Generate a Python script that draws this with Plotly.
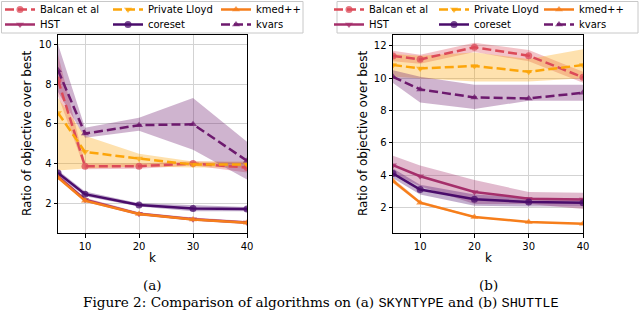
import plotly.graph_objects as go

# ---------------- data ----------------
k_values = [5, 10, 20, 30, 40]
x_ticks = [10, 20, 30, 40]
a_y_ticks = [2, 4, 6, 8, 10]
b_y_ticks = [2, 4, 6, 8, 10, 12]

names = ["Balcan et al", "HST", "Private Lloyd", "coreset", "kmed++", "kvars"]

# (a) SKYNTYPE
a_balcan = [8.2, 3.87, 3.87, 4.0, 3.8]
a_balcan_lo = [7.4, 3.72, 3.74, 3.9, 3.55]
a_balcan_hi = [9.5, 4.0, 4.0, 4.12, 4.05]
a_hst = [3.35, 2.18, 1.47, 1.2, 1.03]
a_hst_lo = [3.25, 2.08, 1.39, 1.12, 0.95]
a_hst_hi = [3.45, 2.28, 1.55, 1.28, 1.11]
a_lloyd = [6.55, 4.59, 4.25, 3.95, 3.95]
a_lloyd_lo = [3.65, 3.75, 3.85, 3.8, 3.8]
a_lloyd_hi = [7.3, 5.4, 4.5, 4.1, 4.1]
a_coreset = [3.53, 2.46, 1.91, 1.74, 1.71]
a_coreset_lo = [3.4, 2.35, 1.84, 1.6, 1.6]
a_coreset_hi = [3.66, 2.6, 2.0, 1.9, 1.82]
a_kmed = [3.3, 2.13, 1.46, 1.19, 1.02]
a_kmed_lo = [3.24, 2.08, 1.41, 1.15, 0.98]
a_kmed_hi = [3.36, 2.18, 1.51, 1.23, 1.06]
a_kvars = [8.7, 5.51, 5.93, 5.98, 4.14]
a_kvars_lo = [7.6, 5.3, 5.65, 4.7, 3.2]
a_kvars_hi = [10.0, 5.8, 6.3, 7.3, 5.1]

# (b) SHUTTLE
b_balcan = [11.38, 11.17, 11.92, 11.4, 10.06]
b_balcan_lo = [11.05, 10.9, 11.62, 11.05, 9.72]
b_balcan_hi = [11.7, 11.45, 12.2, 11.75, 10.4]
b_hst = [4.61, 3.93, 2.95, 2.54, 2.48]
b_hst_lo = [4.1, 3.3, 2.2, 2.2, 1.9]
b_hst_hi = [5.2, 4.6, 3.7, 2.95, 2.9]
b_lloyd = [10.82, 10.61, 10.76, 10.4, 10.82]
b_lloyd_lo = [10.1, 10.0, 9.8, 9.8, 10.0]
b_lloyd_hi = [11.5, 11.4, 11.6, 11.2, 11.8]
b_coreset = [4.09, 3.1, 2.5, 2.33, 2.29]
b_coreset_lo = [3.8, 2.8, 2.1, 2.05, 2.05]
b_coreset_hi = [4.4, 3.4, 2.8, 2.6, 2.55]
b_kmed = [3.64, 2.29, 1.4, 1.09, 0.99]
b_kmed_lo = [3.5, 2.2, 1.35, 1.05, 0.95]
b_kmed_hi = [3.8, 2.4, 1.45, 1.13, 1.03]
b_kvars = [10.09, 9.31, 8.81, 8.75, 9.1]
b_kvars_lo = [9.7, 8.5, 8.1, 8.6, 8.6]
b_kvars_hi = [10.5, 10.1, 9.6, 9.6, 9.6]

# ---------------- styles ----------------
W, H = 640, 314
colors = ["#dc4a58", "#a52f6b", "#fca50a", "#4a0c6b", "#f67e1b", "#6d1a6e"]
dashes = ["9px,4px", "solid", "9px,4px", "solid", "solid", "9px,4px"]
symbols = ["circle", "triangle-down", "triangle-down", "circle", "triangle-up", "triangle-up"]
row_of = [0, 1, 0, 1, 0, 1]  # legend row (matplotlib ncol=3 ordering)


def rgba(hexc, a):
    h = hexc.lstrip("#")
    return "rgba(%d,%d,%d,%.2f)" % (int(h[0:2], 16), int(h[2:4], 16), int(h[4:6], 16), a)


panels = [
    ("x", "y", ["legend", "legend2"],
     [(a_balcan, a_balcan_lo, a_balcan_hi), (a_hst, a_hst_lo, a_hst_hi),
      (a_lloyd, a_lloyd_lo, a_lloyd_hi), (a_coreset, a_coreset_lo, a_coreset_hi),
      (a_kmed, a_kmed_lo, a_kmed_hi), (a_kvars, a_kvars_lo, a_kvars_hi)]),
    ("x2", "y2", ["legend3", "legend4"],
     [(b_balcan, b_balcan_lo, b_balcan_hi), (b_hst, b_hst_lo, b_hst_hi),
      (b_lloyd, b_lloyd_lo, b_lloyd_hi), (b_coreset, b_coreset_lo, b_coreset_hi),
      (b_kmed, b_kmed_lo, b_kmed_hi), (b_kvars, b_kvars_lo, b_kvars_hi)]),
]

fig = go.Figure()
for xa, ya, legs, data in panels:
    # bands first
    for i, (mean, lo, hi) in enumerate(data):
        fig.add_trace(go.Scatter(x=k_values, y=hi, xaxis=xa, yaxis=ya, mode="lines",
                                 line=dict(width=0, color=colors[i]), showlegend=False,
                                 hoverinfo="skip"))
        fig.add_trace(go.Scatter(x=k_values, y=lo, xaxis=xa, yaxis=ya, mode="lines",
                                 line=dict(width=0, color=colors[i]), fill="tonexty",
                                 fillcolor=rgba(colors[i], 0.33), showlegend=False,
                                 hoverinfo="skip"))
    for i, (mean, lo, hi) in enumerate(data):
        fig.add_trace(go.Scatter(
            x=k_values, y=mean, xaxis=xa, yaxis=ya, mode="lines+markers", name=names[i],
            line=dict(color=colors[i], width=2.5, dash=dashes[i]),
            marker=dict(symbol=symbols[i], size=7, color=rgba(colors[i], 0.75),
                        line=dict(width=0)),
            legend=legs[row_of[i]], showlegend=True))

axis_common = dict(showgrid=True, gridcolor="#d3d3d3", gridwidth=1, zeroline=False,
                   showline=True, mirror=True, linecolor="black", linewidth=1,
                   ticks="outside", ticklen=3.5, tickwidth=1, tickcolor="black",
                   tickfont=dict(family="DejaVu Sans", size=10, color="black"))

py = lambda p: 1 - p / H
px = lambda p: p / W

fig.update_layout(
    width=W, height=H, margin=dict(l=0, r=0, t=0, b=0, autoexpand=False),
    paper_bgcolor="white", plot_bgcolor="white",
    font=dict(family="DejaVu Sans", size=10, color="black"),
    xaxis=dict(domain=[px(58), px(247)], range=[5, 40], tickvals=x_ticks, anchor="y", **axis_common),
    yaxis=dict(domain=[py(233), py(35)], range=[0.506, 10.47], tickvals=a_y_ticks, anchor="x", **axis_common),
    xaxis2=dict(domain=[px(393), px(583)], range=[5, 40], tickvals=x_ticks, anchor="y2", **axis_common),
    yaxis2=dict(domain=[py(233), py(35)], range=[0.41, 12.68], tickvals=b_y_ticks, anchor="x2", **axis_common),
)

leg_common = dict(orientation="h", xanchor="left", yanchor="middle", bgcolor="rgba(0,0,0,0)",
                  borderwidth=0, font=dict(family="DejaVu Sans", size=10, color="black"),
                  itemwidth=30, entrywidthmode="pixels", traceorder="normal")
fig.update_layout(
    legend=dict(x=0, y=py(9.5), entrywidth=63, **leg_common),
    legend2=dict(x=0, y=py(24.5), entrywidth=63, **leg_common),
    legend3=dict(x=px(329), y=py(9.5), entrywidth=60, **leg_common),
    legend4=dict(x=px(329), y=py(24.5), entrywidth=60, **leg_common),
)

# legend frames
for x0, x1 in [(1.5, 303), (337, 638)]:
    fig.add_shape(type="rect", xref="paper", yref="paper", x0=px(x0), x1=px(x1),
                  y0=py(33), y1=py(1.5), line=dict(color="#c8c8c8", width=1), layer="above")

ann = []
base = dict(showarrow=False, xref="paper", yref="paper", xanchor="center", yanchor="middle")
ytitle = "Ratio of objective over best"
for cx in [27, 363]:
    ann.append(dict(x=px(cx), y=py(134), text=ytitle, textangle=-90,
                    font=dict(family="DejaVu Sans", size=12), **base))
for cx, lab in [(152.5, "(a)"), (488, "(b)")]:
    ann.append(dict(x=px(cx), y=py(258), text="k",
                    font=dict(family="DejaVu Sans", size=12), **base))
    ann.append(dict(x=px(cx), y=py(285), text=lab,
                    font=dict(family="DejaVu Serif", size=13.5), **base))
caption = ("Figure 2: Comparison of algorithms on (a) "
           "<span style='font-family:Liberation Mono'>SKYNTYPE</span> and (b) "
           "<span style='font-family:Liberation Mono'>SHUTTLE</span>")
ann.append(dict(x=px(321), y=py(302), text=caption,
                font=dict(family="DejaVu Serif", size=13.6), **base))
fig.update_layout(annotations=ann)

fig.write_html("out.html", config={"displayModeBar": False},
               post_script="document.body.style.margin='0px';")
